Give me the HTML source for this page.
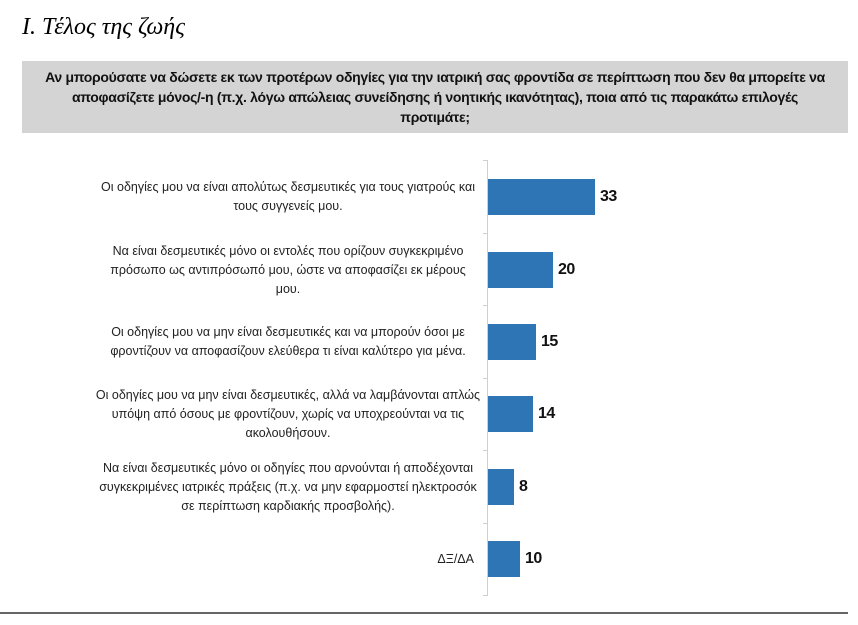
<!DOCTYPE html>
<html><head><meta charset="utf-8"><style>
body{margin:0;width:858px;height:625px;background:#fff;position:relative;overflow:hidden;font-family:"Liberation Sans","DejaVu Sans",sans-serif}
.t{position:absolute;left:22px;top:14px;font-family:"Liberation Serif",serif;font-style:italic;font-size:24px;color:#000}
.q{position:absolute;left:22px;top:61px;width:826px;height:72px;background:#d4d4d4;text-align:center;font-weight:bold;font-size:14px;line-height:20px;color:#111;padding-top:6px;box-sizing:border-box;letter-spacing:-0.3px;white-space:nowrap}
.ax{position:absolute;left:487px;top:160px;width:1px;height:436px;background:#d0d0d0}
.tk{position:absolute;left:483px;width:4px;height:1px;background:#d0d0d0}
.b{position:absolute;left:488px;height:36px;background:#2e75b6}
.v{position:absolute;font-weight:bold;font-size:16px;color:#111;letter-spacing:-0.5px}
.l{position:absolute;left:78px;width:420px;text-align:center;font-size:12.5px;line-height:19px;color:#222;white-space:nowrap}
.bl{position:absolute;left:0;top:612px;width:848px;height:2px;background:#666}
</style></head><body>
<div class="t">I. Τέλος της ζωής</div>
<div class="q">Αν μπορούσατε να δώσετε εκ των προτέρων οδηγίες για την ιατρική σας φροντίδα σε περίπτωση που δεν θα μπορείτε να<br>αποφασίζετε μόνος/-η (π.χ. λόγω απώλειας συνείδησης ή νοητικής ικανότητας), ποια από τις παρακάτω επιλογές<br>προτιμάτε;</div>
<div class="ax"></div>
<div class="tk" style="top:160px"></div><div class="tk" style="top:233px"></div><div class="tk" style="top:305px"></div><div class="tk" style="top:378px"></div><div class="tk" style="top:450px"></div><div class="tk" style="top:523px"></div><div class="tk" style="top:595px"></div>

<div class="b" style="top:179px;width:107px"></div><div class="v" style="left:600px;top:188px">33</div>
<div class="b" style="top:252px;width:65px"></div><div class="v" style="left:558px;top:261px">20</div>
<div class="b" style="top:324px;width:48px"></div><div class="v" style="left:541px;top:333px">15</div>
<div class="b" style="top:396px;width:45px"></div><div class="v" style="left:538px;top:405px">14</div>
<div class="b" style="top:469px;width:26px"></div><div class="v" style="left:519px;top:478px">8</div>
<div class="b" style="top:541px;width:32px"></div><div class="v" style="left:525px;top:550px">10</div>

<div class="l" style="top:178px">Οι οδηγίες μου να είναι απολύτως δεσμευτικές για τους γιατρούς και<br>τους συγγενείς μου.</div>
<div class="l" style="top:242px">Να είναι δεσμευτικές μόνο οι εντολές που ορίζουν συγκεκριμένο<br>πρόσωπο ως αντιπρόσωπό μου, ώστε να αποφασίζει εκ μέρους<br>μου.</div>
<div class="l" style="top:323px">Οι οδηγίες μου να μην είναι δεσμευτικές και να μπορούν όσοι με<br>φροντίζουν να αποφασίζουν ελεύθερα τι είναι καλύτερο για μένα.</div>
<div class="l" style="top:386px">Οι οδηγίες μου να μην είναι δεσμευτικές, αλλά να λαμβάνονται απλώς<br>υπόψη από όσους με φροντίζουν, χωρίς να υποχρεούνται να τις<br>ακολουθήσουν.</div>
<div class="l" style="top:459px">Να είναι δεσμευτικές μόνο οι οδηγίες που αρνούνται ή αποδέχονται<br>συγκεκριμένες ιατρικές πράξεις (π.χ. να μην εφαρμοστεί ηλεκτροσόκ<br>σε περίπτωση καρδιακής προσβολής).</div>
<div class="l" style="top:550px;left:300px;width:174px;text-align:right">ΔΞ/ΔΑ</div>
<div class="bl"></div>
</body></html>
